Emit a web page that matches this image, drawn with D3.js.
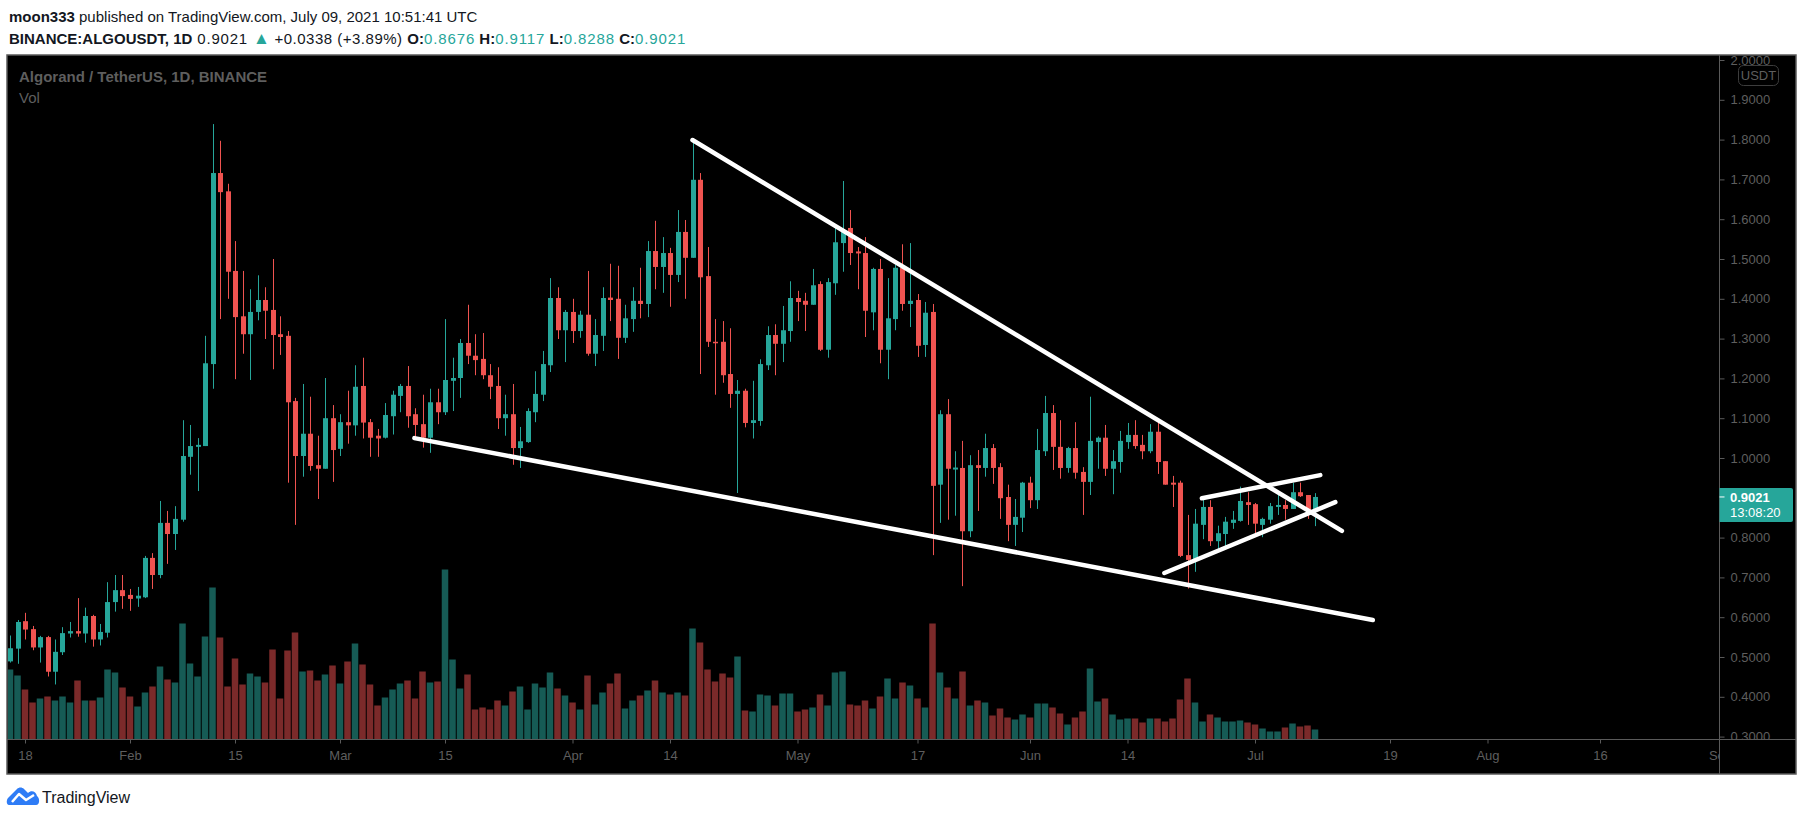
<!DOCTYPE html>
<html>
<head>
<meta charset="utf-8">
<script src="https://cdn.jsdelivr.net/npm/d3@7"></script>
<style>
body { margin: 0; background: #ffffff; }
svg { display: block; }
</style>
</head>
<body>
<div class="chartfield"></div>
<script>
var width = 1805;
var height = 821;

// daily candles, first one is 2021-01-16, last one 2021-07-09
var startDay = "2021-01-16";
// [open, high, low, close]
var ohlc = [
[0.489,0.554,0.486,0.522],[0.521,0.593,0.483,0.588],[0.590,0.611,0.544,0.569],[0.570,0.578,0.517,0.524],
[0.524,0.553,0.486,0.550],[0.550,0.553,0.451,0.463],[0.463,0.544,0.431,0.513],[0.512,0.575,0.505,0.560],
[0.559,0.588,0.549,0.565],[0.565,0.648,0.551,0.559],[0.559,0.624,0.536,0.603],[0.603,0.606,0.526,0.544],
[0.544,0.583,0.529,0.563],[0.561,0.688,0.549,0.638],[0.638,0.706,0.614,0.668],[0.668,0.706,0.621,0.653],
[0.656,0.671,0.616,0.646],[0.647,0.676,0.626,0.654],[0.650,0.754,0.648,0.749],[0.749,0.761,0.671,0.706],
[0.706,0.892,0.698,0.837],[0.837,0.867,0.734,0.809],[0.809,0.879,0.769,0.847],[0.845,1.095,0.840,1.005],
[1.003,1.083,0.958,1.030],[1.028,1.050,0.917,1.033],[1.030,1.307,1.030,1.238],[1.236,1.839,1.174,1.716],
[1.716,1.797,1.349,1.668],[1.670,1.689,1.400,1.468],[1.470,1.545,1.198,1.354],[1.356,1.470,1.262,1.311],
[1.311,1.424,1.196,1.367],[1.367,1.459,1.346,1.397],[1.397,1.429,1.299,1.370],[1.372,1.500,1.223,1.309],
[1.311,1.356,1.259,1.304],[1.307,1.319,0.938,1.140],[1.143,1.151,0.832,1.005],[1.005,1.186,0.953,1.061],
[1.061,1.154,0.968,0.980],[0.982,1.056,0.897,0.973],[0.973,1.201,0.973,1.100],[1.100,1.133,0.940,1.020],
[1.023,1.110,1.005,1.090],[1.090,1.169,1.036,1.082],[1.082,1.233,1.056,1.179],[1.181,1.252,1.049,1.089],
[1.090,1.098,1.003,1.051],[1.056,1.073,1.003,1.049],[1.051,1.138,1.049,1.108],[1.105,1.169,1.059,1.159],
[1.156,1.186,1.115,1.181],[1.181,1.231,1.076,1.105],[1.110,1.125,1.049,1.083],[1.085,1.159,1.026,1.051],
[1.051,1.174,1.013,1.140],[1.140,1.174,1.085,1.115],[1.115,1.349,1.108,1.196],[1.194,1.252,1.118,1.201],
[1.201,1.299,1.151,1.289],[1.289,1.385,1.236,1.257],[1.257,1.311,1.208,1.246],[1.249,1.314,1.198,1.208],
[1.208,1.236,1.148,1.179],[1.181,1.228,1.073,1.100],[1.100,1.159,1.056,1.110],[1.110,1.186,0.983,1.025],
[1.025,1.078,0.975,1.042],[1.040,1.125,1.038,1.118],[1.115,1.218,1.090,1.161],[1.159,1.269,1.143,1.236],
[1.233,1.452,1.216,1.402],[1.402,1.429,1.299,1.321],[1.321,1.372,1.241,1.367],[1.367,1.400,1.289,1.319],
[1.319,1.370,1.302,1.360],[1.360,1.470,1.257,1.262],[1.262,1.349,1.231,1.309],[1.307,1.429,1.269,1.402],
[1.403,1.488,1.344,1.397],[1.400,1.483,1.249,1.302],[1.302,1.385,1.289,1.351],[1.349,1.429,1.317,1.395],
[1.395,1.478,1.351,1.387],[1.387,1.545,1.354,1.520],[1.520,1.596,1.424,1.480],[1.480,1.555,1.415,1.515],
[1.515,1.528,1.380,1.460],[1.460,1.623,1.442,1.568],[1.568,1.598,1.400,1.503],[1.503,1.794,1.503,1.699],
[1.699,1.716,1.211,1.454],[1.457,1.530,1.279,1.292],[1.292,1.349,1.159,1.289],[1.292,1.344,1.189,1.208],
[1.211,1.326,1.126,1.161],[1.161,1.196,0.912,1.169],[1.169,1.174,1.077,1.088],[1.088,1.194,1.049,1.095],
[1.093,1.248,1.081,1.236],[1.233,1.331,1.221,1.309],[1.309,1.336,1.208,1.287],[1.287,1.382,1.241,1.321],
[1.319,1.444,1.292,1.402],[1.402,1.420,1.344,1.392],[1.395,1.415,1.319,1.385],[1.385,1.475,1.385,1.434],
[1.437,1.444,1.269,1.272],[1.272,1.452,1.252,1.442],[1.439,1.578,1.410,1.542],[1.540,1.696,1.468,1.568],
[1.578,1.623,1.485,1.515],[1.519,1.530,1.424,1.514],[1.515,1.555,1.304,1.370],[1.366,1.478,1.321,1.475],
[1.475,1.500,1.238,1.272],[1.272,1.452,1.198,1.351],[1.349,1.485,1.321,1.478],[1.478,1.537,1.370,1.387],
[1.387,1.540,1.329,1.395],[1.397,1.412,1.254,1.282],[1.284,1.392,1.254,1.365],[1.367,1.387,0.756,0.930],
[0.933,1.120,0.837,1.110],[1.110,1.148,0.845,0.973],[0.971,1.017,0.855,0.976],[0.975,1.043,0.678,0.816],
[0.816,1.007,0.801,0.982],[0.982,1.020,0.867,0.975],[0.975,1.061,0.953,1.025],[1.025,1.035,0.935,0.975],
[0.977,0.987,0.847,0.899],[0.902,0.933,0.791,0.832],[0.832,0.897,0.779,0.852],[0.850,0.940,0.814,0.938],
[0.938,0.953,0.874,0.894],[0.894,1.073,0.872,1.020],[1.017,1.156,1.005,1.113],[1.113,1.133,0.970,1.028],
[1.028,1.095,0.948,0.975],[0.975,1.028,0.963,1.025],[1.025,1.090,0.948,0.963],[0.965,0.977,0.857,0.940],
[0.940,1.154,0.907,1.043],[1.040,1.054,0.973,1.051],[1.051,1.083,0.955,0.973],[0.973,1.020,0.909,0.992],
[0.990,1.068,0.963,1.043],[1.040,1.088,1.023,1.058],[1.058,1.095,1.023,1.030],[1.033,1.058,0.997,1.017],
[1.017,1.085,1.012,1.066],[1.066,1.093,0.960,0.990],[0.992,0.992,0.933,0.933],[0.938,0.955,0.877,0.933],
[0.938,0.943,0.751,0.754],[0.756,0.857,0.672,0.744],[0.746,0.872,0.714,0.835],[0.832,0.897,0.796,0.877],
[0.877,0.894,0.779,0.791],[0.791,0.830,0.771,0.811],[0.809,0.852,0.779,0.840],[0.837,0.867,0.822,0.845],
[0.842,0.928,0.840,0.892],[0.889,0.914,0.832,0.882],[0.884,0.887,0.811,0.835],[0.832,0.850,0.801,0.847],
[0.845,0.887,0.835,0.879],[0.877,0.907,0.857,0.882],[0.882,0.894,0.845,0.872],[0.872,0.938,0.872,0.914],
[0.914,0.938,0.902,0.904],[0.907,0.907,0.847,0.868],[0.8676,0.9117,0.8288,0.9021]
];
// daily volume, millions ALGO
var volume = [
140,128,100,74,82,86,78,86,74,118,78,78,84,140,134,104,86,66,94,106,
146,120,114,232,152,126,206,304,204,106,162,110,132,126,114,180,82,178,214,136,
138,118,130,148,112,156,192,150,110,68,84,100,112,118,82,136,114,116,340,160,
102,130,60,64,60,78,68,96,106,60,112,104,134,102,88,74,60,128,70,94,
112,132,62,78,88,98,118,94,90,94,88,222,194,140,116,132,124,166,58,56,
90,88,68,92,92,56,60,64,90,68,134,136,70,68,78,62,86,122,82,114,
108,82,64,232,134,104,82,136,68,78,74,48,62,44,40,50,44,72,72,64,
52,30,44,56,142,76,82,50,40,42,42,34,42,42,36,42,80,122,74,36,
50,44,36,36,38,34,30,22,16,16,24,32,26,28,20
];

var priceTicks = [2.0,1.9,1.8,1.7,1.6,1.5,1.4,1.3,1.2,1.1,1.0,0.9,0.8,0.7,0.6,0.5,0.4,0.3];
var dateTicks = ["2021-01-18","2021-02-01","2021-02-15","2021-03-01","2021-03-15","2021-04-01","2021-04-14","2021-05-01",
                 "2021-05-17","2021-06-01","2021-06-14","2021-07-01","2021-07-19","2021-08-01","2021-08-16","2021-09-01"];
var dateTickLabels = ["18","Feb","15","Mar","15","Apr","14","May","17","Jun","14","Jul","19","Aug","16","Sep"];

// hand drawn white lines: [start, end] as [time, price]
var trendLines = [
	[["2021-04-17T00:00Z",1.799],["2021-07-12T14:00Z",0.817]],
	[["2021-03-10T22:00Z",1.050],["2021-07-16T17:00Z",0.593]],
	[["2021-06-23T22:00Z",0.899],["2021-07-09T17:00Z",0.957]],
	[["2021-06-18T22:00Z",0.711],["2021-07-11T17:00Z",0.889]]
];

var lastPrice = 0.9021;
var countdown = "13:08:20";
var symbolTitle = "Algorand / TetherUS, 1D, BINANCE";

var upColor = "#26a69a";
var downColor = "#ef5350";
var upVolColor = "#165b55";
var downVolColor = "#7b2a2a";
var textGray = "#5e5e5e";
var lineGray = "#5a5a5a";

// pane geometry
var paneL = 7, paneT = 55, paneR = 1796, paneB = 774;
var axisX = 1719.5;
var axisY = 739.5;

var svg = d3.select(".chartfield")
	.append("svg")
	.attr("width", width)
	.attr("height", height);

svg.append("rect")
	.attr("width", width)
	.attr("height", height)
	.attr("fill", "#ffffff");

// header
var head1 = svg.append("text")
	.attr("x", 9)
	.attr("y", 22)
	.style("font-family", "Liberation Sans, Arial, sans-serif")
	.style("font-size", "15px")
	.attr("fill", "#131722");
head1.append("tspan").style("font-weight", "bold").text("moon333");
head1.append("tspan").text(" published on TradingView.com, July 09, 2021 10:51:41 UTC");

var head2 = svg.append("text")
	.attr("x", 9)
	.attr("y", 44)
	.style("font-family", "Liberation Sans, Arial, sans-serif")
	.style("font-size", "15px")
	.attr("fill", "#131722");
head2.append("tspan").style("font-weight", "bold").text("BINANCE:ALGOUSDT, 1D");
head2.append("tspan").style("letter-spacing", "0.8px").text(" 0.9021 ");
head2.append("tspan").attr("fill", upColor).style("font-size", "17px").text("\u25B2");
head2.append("tspan").style("letter-spacing", "0.5px").text(" +0.0338 (+3.89%) ");
var ohlcLabels = [["O:", "0.8676"], [" H:", "0.9117"], [" L:", "0.8288"], [" C:", "0.9021"]];
ohlcLabels.forEach(function(p) {
	head2.append("tspan").style("font-weight", "bold").text(p[0]);
	head2.append("tspan").attr("fill", upColor).style("letter-spacing", "0.9px").text(p[1]);
});

// chart pane
svg.append("rect")
	.attr("x", paneL)
	.attr("y", paneT)
	.attr("width", paneR - paneL)
	.attr("height", paneB - paneT)
	.attr("fill", "#000000")
	.attr("stroke", lineGray)
	.attr("stroke-width", 1.5);

var defs = svg.append("defs");
defs.append("clipPath").attr("id", "plotclip")
	.append("rect")
	.attr("x", paneL + 1).attr("y", paneT + 1)
	.attr("width", axisX - paneL - 1).attr("height", axisY - paneT - 1);
defs.append("clipPath").attr("id", "priceclip")
	.append("rect")
	.attr("x", axisX).attr("y", paneT + 1)
	.attr("width", paneR - axisX - 1).attr("height", axisY - paneT - 1);
defs.append("clipPath").attr("id", "timeclip")
	.append("rect")
	.attr("x", paneL + 1).attr("y", axisY)
	.attr("width", axisX - paneL - 1).attr("height", paneB - axisY);

var parseDay = d3.utcParse("%Y-%m-%d");
var day0 = parseDay(startDay);
var candles = ohlc.map(function(d, i) {
	return { date: d3.utcDay.offset(day0, i), o: d[0], h: d[1], l: d[2], c: d[3], v: volume[i] };
});

var x = d3.scaleUtc()
	.domain([day0, parseDay("2021-09-01")])
	.range([10, 10 + 7.5 * 228]);
var y = d3.scaleLinear()
	.domain([0.3, 2.0])
	.range([736.6, 60]);
var yVol = d3.scaleLinear()
	.domain([0, 340])
	.range([axisY, axisY - 170]);

var plot = svg.append("g").attr("clip-path", "url(#plotclip)");

// volume
plot.append("g").selectAll("rect")
	.data(candles)
	.enter()
	.append("rect")
	.attr("x", function(d) { return x(d.date) - 3.25; })
	.attr("y", function(d) { return yVol(d.v); })
	.attr("width", 6.5)
	.attr("height", function(d) { return axisY - yVol(d.v); })
	.attr("fill", function(d) { return d.c >= d.o ? upVolColor : downVolColor; });

// candles
var cg = plot.append("g");
cg.selectAll("line")
	.data(candles)
	.enter()
	.append("line")
	.attr("x1", function(d) { return Math.round(x(d.date)) + 0.5; })
	.attr("x2", function(d) { return Math.round(x(d.date)) + 0.5; })
	.attr("y1", function(d) { return y(d.h); })
	.attr("y2", function(d) { return y(d.l); })
	.attr("stroke", function(d) { return d.c >= d.o ? upColor : downColor; })
	.attr("stroke-width", 1);
cg.selectAll("rect")
	.data(candles)
	.enter()
	.append("rect")
	.attr("x", function(d) { return Math.round(x(d.date)) - 2; })
	.attr("width", 5)
	.attr("y", function(d) { return y(Math.max(d.o, d.c)); })
	.attr("height", function(d) { return Math.max(1.5, Math.abs(y(d.o) - y(d.c))); })
	.attr("fill", function(d) { return d.c >= d.o ? upColor : downColor; });

// drawings
plot.append("g").selectAll("line")
	.data(trendLines)
	.enter()
	.append("line")
	.attr("x1", function(d) { return x(new Date(d[0][0])); })
	.attr("y1", function(d) { return y(d[0][1]); })
	.attr("x2", function(d) { return x(new Date(d[1][0])); })
	.attr("y2", function(d) { return y(d[1][1]); })
	.attr("stroke", "#ffffff")
	.attr("stroke-width", 4.5)
	.attr("stroke-linecap", "round");

// legend
svg.append("text")
	.attr("x", 19)
	.attr("y", 82)
	.style("font-family", "Liberation Sans, Arial, sans-serif")
	.style("font-size", "15px")
	.style("font-weight", "bold")
	.attr("fill", textGray)
	.text(symbolTitle);
svg.append("text")
	.attr("x", 19)
	.attr("y", 103)
	.style("font-family", "Liberation Sans, Arial, sans-serif")
	.style("font-size", "15px")
	.attr("fill", textGray)
	.text("Vol");

// price axis
var pAxis = svg.append("g")
	.attr("clip-path", "url(#priceclip)")
	.append("g")
	.attr("transform", "translate(" + axisX + ",0)")
	.call(d3.axisRight(y).tickValues(priceTicks).tickFormat(d3.format(".4f")).tickSize(5).tickPadding(6));
pAxis.select(".domain").remove();
pAxis.selectAll(".tick line").attr("stroke", lineGray);
pAxis.selectAll(".tick text")
	.attr("fill", textGray)
	.style("font-family", "Liberation Sans, Arial, sans-serif")
	.style("font-size", "13px");

// time axis
var tAxis = svg.append("g")
	.attr("clip-path", "url(#timeclip)")
	.append("g")
	.attr("transform", "translate(0," + axisY + ")")
	.call(d3.axisBottom(x)
		.tickValues(dateTicks.map(parseDay))
		.tickFormat(function(d, i) { return dateTickLabels[i]; })
		.tickSize(4)
		.tickPadding(7));
tAxis.select(".domain").remove();
tAxis.selectAll(".tick line").attr("stroke", lineGray);
tAxis.selectAll(".tick text")
	.attr("fill", textGray)
	.style("font-family", "Liberation Sans, Arial, sans-serif")
	.style("font-size", "13px");

// separators
svg.append("line")
	.attr("x1", axisX).attr("x2", axisX)
	.attr("y1", paneT).attr("y2", paneB)
	.attr("stroke", lineGray);
svg.append("line")
	.attr("x1", paneL).attr("x2", paneR)
	.attr("y1", axisY).attr("y2", axisY)
	.attr("stroke", lineGray);

// currency badge
svg.append("rect")
	.attr("x", 1738.5).attr("y", 65.5)
	.attr("width", 40).attr("height", 20)
	.attr("rx", 5)
	.attr("fill", "#000000")
	.attr("stroke", "#3d3d3d");
svg.append("text")
	.attr("x", 1758.5).attr("y", 80)
	.attr("text-anchor", "middle")
	.style("font-family", "Liberation Sans, Arial, sans-serif")
	.style("font-size", "13px")
	.attr("fill", textGray)
	.text("USDT");

// last price label
var ly = y(lastPrice);
svg.append("path")
	.attr("d", "M" + axisX + "," + (ly - 9) + " H1791 q2,0 2,2 V" + (ly + 23) + " q0,2 -2,2 H" + axisX + " Z")
	.attr("fill", upColor);
svg.append("line")
	.attr("x1", axisX).attr("x2", axisX + 5)
	.attr("y1", ly).attr("y2", ly)
	.attr("stroke", "#ffffff");
svg.append("text")
	.attr("x", 1730).attr("y", ly + 5)
	.style("font-family", "Liberation Sans, Arial, sans-serif")
	.style("font-size", "13px")
	.style("font-weight", "bold")
	.attr("fill", "#ffffff")
	.text(d3.format(".4f")(lastPrice));
svg.append("text")
	.attr("x", 1730).attr("y", ly + 20)
	.style("font-family", "Liberation Sans, Arial, sans-serif")
	.style("font-size", "13px")
	.attr("fill", "#ffffff")
	.text(countdown);

// footer logo
var logo = svg.append("g").attr("transform", "translate(7,787)");
logo.append("path")
	.attr("d", "M2,18 C-1,18 -1,12 2,10 L10,2 C12,0 15,0 17,2 L21,6 C24,3 29,4 30,9 C33,11 33,18 29,18 Z")
	.attr("fill", "#2e7cf6");
logo.append("polyline")
	.attr("points", "5,15 12,7 19,13 27,8")
	.attr("fill", "none")
	.attr("stroke", "#ffffff")
	.attr("stroke-width", 2.5)
	.attr("stroke-linejoin", "round");
svg.append("text")
	.attr("x", 42).attr("y", 803)
	.style("font-family", "Liberation Sans, Arial, sans-serif")
	.style("font-size", "16px")
	.attr("fill", "#131722")
	.text("TradingView");
</script>
</body>
</html>
